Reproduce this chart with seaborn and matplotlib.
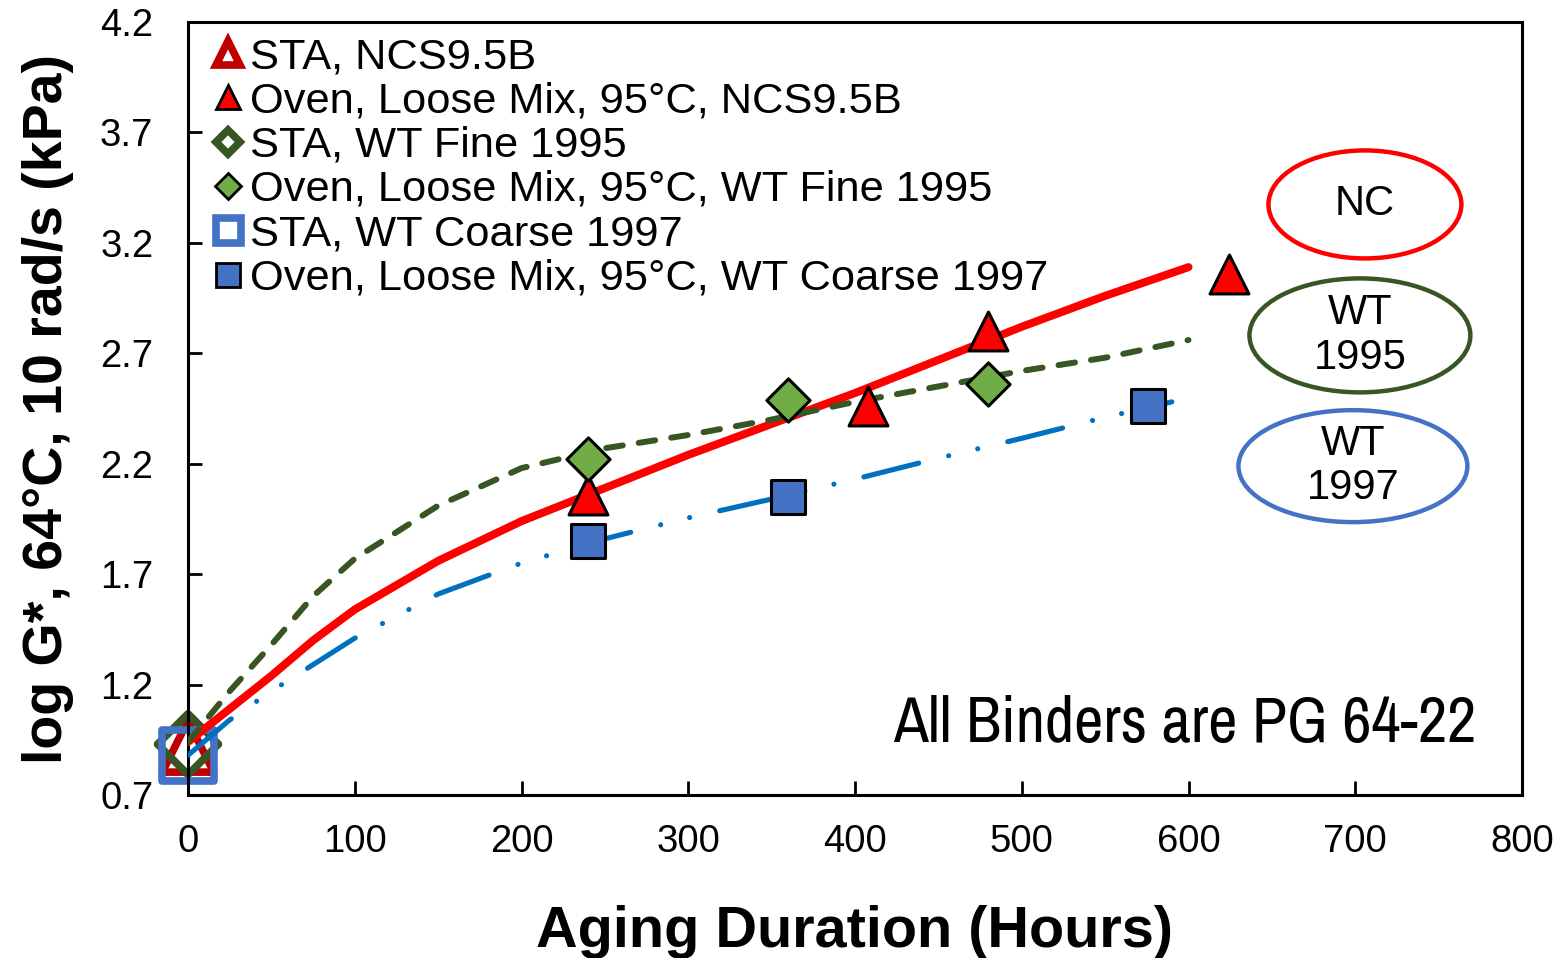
import numpy as np
import pandas as pd
import matplotlib
matplotlib.use('Agg')
import matplotlib.pyplot as plt
from matplotlib import font_manager
from matplotlib.lines import Line2D
from matplotlib.patches import Ellipse
import seaborn as sns

# STA (unaged, 0 h) values
sta_hours = [0]
sta_nc = [0.92]
sta_wt95 = [0.93]
sta_wt97 = [0.88]

# oven aged loose mix, 95C
oven_nc_hours = [240, 408, 480, 624]
oven_nc = [2.06, 2.46, 2.80, 3.06]
oven_wt95_hours = [240, 360, 480]
oven_wt95 = [2.22, 2.49, 2.56]
oven_wt97_hours = [240, 360, 576]
oven_wt97 = [1.85, 2.05, 2.46]

# trend lines
trend_hours = [0, 25, 50, 75, 100, 150, 200, 250, 300, 350, 400, 450, 500, 550, 600]
trend_nc = [0.94, 1.09, 1.24, 1.40, 1.54, 1.76, 1.94, 2.09, 2.24, 2.38, 2.52, 2.67, 2.82, 2.96, 3.09]
trend_wt95 = [0.94, 1.17, 1.38, 1.60, 1.77, 2.01, 2.18, 2.27, 2.33, 2.40, 2.48, 2.55, 2.62, 2.68, 2.76]
trend_hours_wt97 = [0, 25, 50, 75, 100, 150, 200, 250, 300, 350, 400, 450, 500, 550, 590]
trend_wt97 = [0.88, 1.04, 1.17, 1.29, 1.41, 1.61, 1.75, 1.86, 1.955, 2.04, 2.13, 2.225, 2.315, 2.41, 2.48]

legend_labels = ['STA, NCS9.5B', 'Oven, Loose Mix, 95°C, NCS9.5B',
                 'STA, WT Fine 1995', 'Oven, Loose Mix, 95°C, WT Fine 1995',
                 'STA, WT Coarse 1997', 'Oven, Loose Mix, 95°C, WT Coarse 1997']

x_ticks = [0, 100, 200, 300, 400, 500, 600, 700, 800]
y_ticks = [0.7, 1.2, 1.7, 2.2, 2.7, 3.2, 3.7, 4.2]

red = '#FF0000'
dark_red = '#C00000'
dark_green = '#375623'
light_green = '#70AD47'
blue = '#4472C4'
line_blue = '#0070C0'

sns.set_style('ticks')
plt.rcParams['font.family'] = ['Liberation Sans', 'DejaVu Sans']
for k in ['text.color', 'axes.labelcolor', 'xtick.color', 'ytick.color', 'axes.edgecolor']:
    plt.rcParams[k] = 'black'

# look for a narrow font for the note, otherwise plain Liberation Sans
narrow = None
for f in font_manager.fontManager.ttflist:
    nm = f.name
    if ('Narrow' in nm or 'Condensed' in nm) and 'Mono' not in nm and 'Serif' not in nm:
        narrow = nm
        break
if narrow is None:
    for f in font_manager.fontManager.ttflist:
        st = f.stretch if isinstance(f.stretch, (int, float)) else 500
        if st < 500 and 'Mono' not in f.name and 'Serif' not in f.name:
            narrow = f.name
            break
if narrow is not None:
    note_family = [narrow, 'Liberation Sans', 'DejaVu Sans']
    note_size = 46
else:
    note_family = ['Liberation Sans', 'DejaVu Sans']
    note_size = 38

fig = plt.figure(figsize=(15.67, 9.58), dpi=100)
ax = fig.add_axes([188/1567, 163/958, (1522-188)/1567, (795-22)/958])

# STA markers at time zero (behind the trend lines)
sns.scatterplot(x=sta_hours, y=sta_nc, marker='^', s=37**2, color='white',
                edgecolor=dark_red, linewidth=5.5, ax=ax, zorder=2, clip_on=False)
sns.scatterplot(x=sta_hours, y=sta_wt95, marker='D', s=31**2, color='white',
                edgecolor=dark_green, linewidth=5.5, ax=ax, zorder=2.1, clip_on=False)
sns.scatterplot(x=sta_hours, y=sta_wt97, marker='s', s=37**2, color='white',
                edgecolor=blue, linewidth=5.5, ax=ax, zorder=2.2, clip_on=False)
# hollow STA markers
for coll in ax.collections:
    coll.set_facecolor('none')

# trend lines
sns.lineplot(x=trend_hours, y=trend_nc, color=red, lw=5.8, ax=ax, zorder=3,
             solid_capstyle='round')
sns.lineplot(x=trend_hours, y=trend_wt95, color=dark_green, lw=4.3, ax=ax, zorder=3,
             linestyle=(0, (2.8, 2.7)), dash_capstyle='round')
sns.lineplot(x=trend_hours_wt97, y=trend_wt97, color=line_blue, lw=3.7, ax=ax, zorder=3,
             linestyle=(0, (11.0, 6.0, 0.01, 5.8, 0.01, 6.0)), dash_capstyle='round')

# oven aged markers
sns.scatterplot(x=oven_nc_hours, y=oven_nc, marker='^', s=28**2, color=red,
                edgecolor='black', linewidth=2.2, ax=ax, zorder=4)
sns.scatterplot(x=oven_wt95_hours, y=oven_wt95, marker='D', s=22**2, color=light_green,
                edgecolor='black', linewidth=2.2, ax=ax, zorder=4)
sns.scatterplot(x=oven_wt97_hours, y=oven_wt97, marker='s', s=25**2, color=blue,
                edgecolor='black', linewidth=2.2, ax=ax, zorder=4)

ax.set_xlim(0, 800)
ax.set_ylim(0.7, 4.2)
ax.set_xticks(x_ticks)
ax.set_yticks(y_ticks)
ax.set_yticklabels([f'{v:.1f}' for v in y_ticks])
ax.tick_params(direction='in', length=10, width=2, labelsize=27.5, pad=21)
ax.tick_params(axis='y', pad=25)
for sp in ax.spines.values():
    sp.set_linewidth(2.2)
    sp.set_color('black')
ax.set_xlabel('Aging Duration (Hours)', fontsize=41.5, fontweight='bold', labelpad=32)
ax.set_ylabel('log G*, 64°C, 10 rad/s (kPa)', fontsize=40, fontweight='bold', labelpad=19)

# legend
handles = [
    Line2D([], [], ls='none', marker='^', ms=17, mfc='white', mec=dark_red, mew=5.5),
    Line2D([], [], ls='none', marker='^', ms=17, mfc=red, mec='black', mew=2),
    Line2D([], [], ls='none', marker='D', ms=12, mfc='white', mec=dark_green, mew=5.5),
    Line2D([], [], ls='none', marker='D', ms=13, mfc=light_green, mec='black', mew=2),
    Line2D([], [], ls='none', marker='s', ms=18, mfc='white', mec=blue, mew=5.5),
    Line2D([], [], ls='none', marker='s', ms=17, mfc=blue, mec='black', mew=2),
]
leg = ax.legend(handles, legend_labels, loc='upper left', bbox_to_anchor=(211/1567, 1-37/958),
                bbox_transform=fig.transFigure, frameon=False, fontsize=31.2,
                handlelength=0.78, handletextpad=0.12, labelspacing=0.1,
                borderpad=0, borderaxespad=0)

# ellipses with labels
ell_specs = [((705.8, 3.374), 115.7, 0.489, red, 'NC'),
             ((702.8, 2.781), 132.5, 0.516, dark_green, 'WT\n1995'),
             ((698.6, 2.189), 137.3, 0.507, blue, 'WT\n1997')]
for (cx, cy), w, h, c, txt in ell_specs:
    ax.add_patch(Ellipse((cx, cy), w, h, fill=False, edgecolor=c, lw=3.2, zorder=5))
    ax.text(cx, cy, txt, ha='center', va='center', fontsize=30, linespacing=1.15, zorder=6)

ax.text(0.9655, 0.092, 'All Binders are PG 64-22', transform=ax.transAxes, ha='right',
        va='center', fontsize=note_size, family=note_family)

fig.savefig('out.png', dpi=100)
